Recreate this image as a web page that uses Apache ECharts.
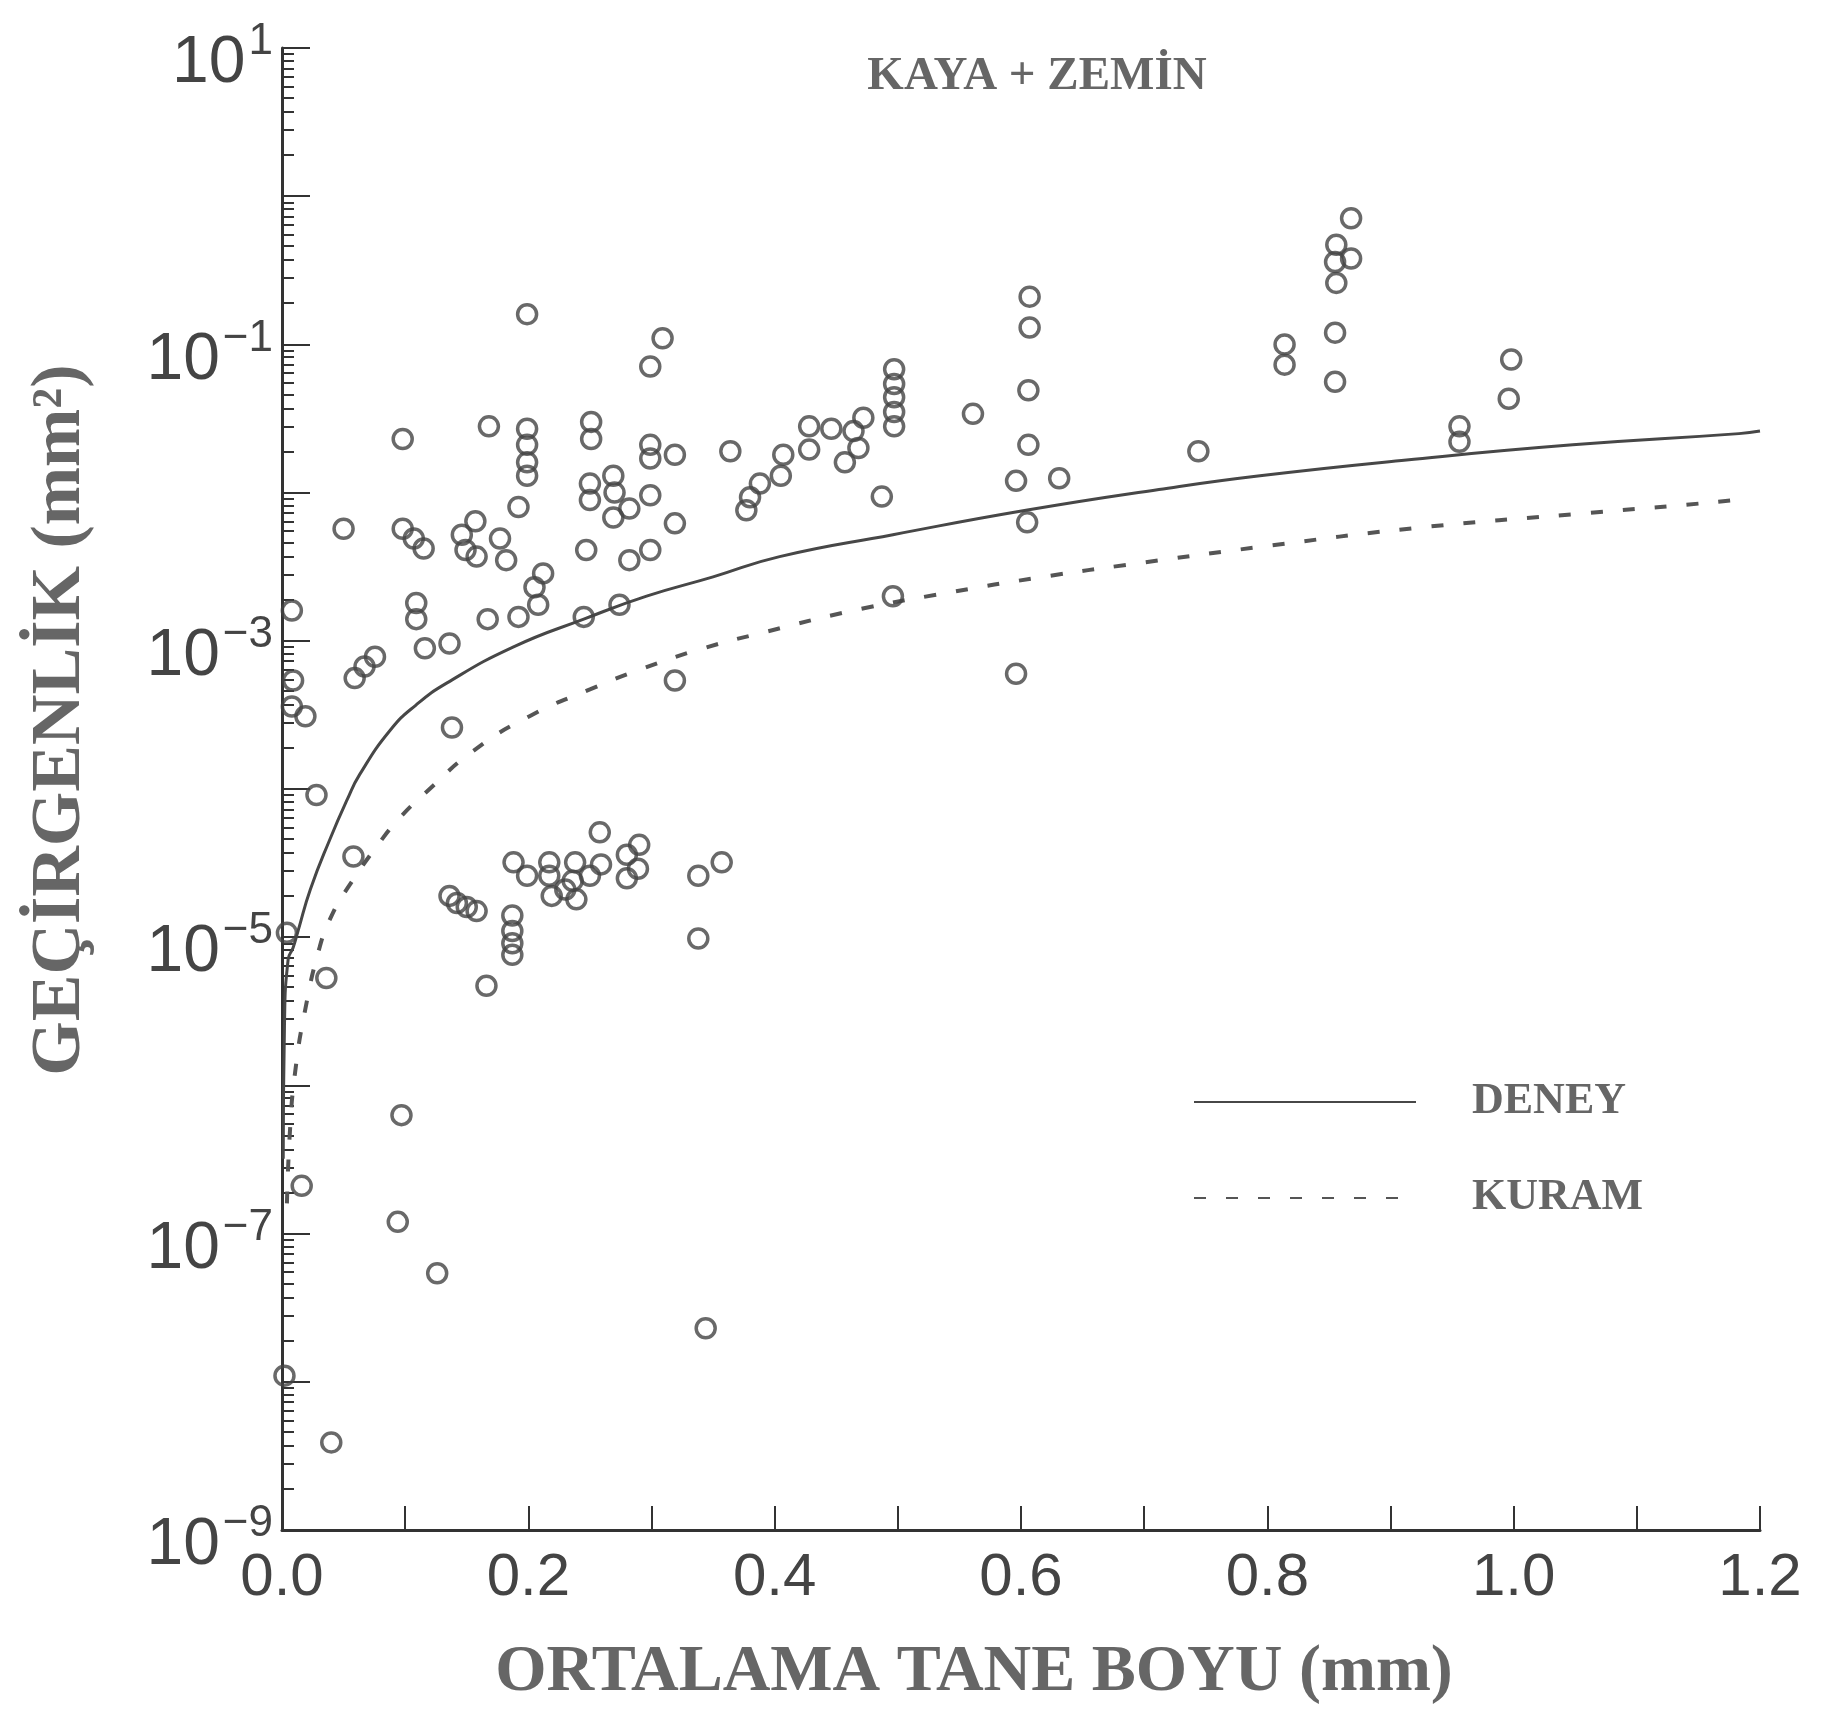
<!DOCTYPE html>
<html>
<head>
<meta charset="utf-8">
<script src="https://cdn.jsdelivr.net/npm/echarts@6/dist/echarts.min.js"></script>
<style>
  html, body { margin: 0; padding: 0; background: #fff; }
  #main { width: 1822px; height: 1726px; }
</style>
</head>
<body>
<div id="main"></div>
<script>
// ölçülen noktalar: [tane boyu (mm), geçirgenlik (mm2)]
const points = [
  [0.199, 1.6e-1], [0.309, 1.1e-1], [0.299, 7.1e-2], [0.098, 2.3e-2], [0.168, 2.8e-2],
  [0.199, 2.7e-2], [0.199, 2.1e-2], [0.199, 1.6e-2], [0.199, 1.3e-2], [0.251, 3.0e-2],
  [0.251, 2.3e-2], [0.299, 2.1e-2], [0.299, 1.7e-2], [0.319, 1.8e-2], [0.364, 1.9e-2],
  [0.192, 8.0e-3], [0.250, 1.15e-2], [0.250, 8.9e-3], [0.269, 1.3e-2], [0.270, 1.0e-2],
  [0.282, 7.8e-3], [0.269, 6.8e-3], [0.299, 9.6e-3], [0.319, 6.2e-3], [0.247, 4.1e-3],
  [0.282, 3.5e-3], [0.299, 4.1e-3], [0.380, 9.3e-3], [0.388, 1.15e-2], [0.377, 7.6e-3],
  [0.050, 5.7e-3], [0.098, 5.7e-3], [0.107, 4.9e-3], [0.115, 4.2e-3], [0.157, 6.4e-3],
  [0.146, 5.2e-3], [0.149, 4.1e-3], [0.158, 3.7e-3], [0.177, 4.9e-3], [0.182, 3.5e-3],
  [0.212, 2.85e-3], [0.205, 2.3e-3], [0.208, 1.75e-3], [0.192, 1.45e-3], [0.167, 1.4e-3],
  [0.109, 1.8e-3], [0.109, 1.4e-3], [0.116, 8.9e-4], [0.136, 9.6e-4], [0.245, 1.45e-3],
  [0.274, 1.75e-3], [0.059, 5.6e-4], [0.067, 6.7e-4], [0.0755, 7.8e-4], [0.008, 1.6e-3],
  [0.009, 5.4e-4], [0.019, 3.1e-4], [0.008, 3.6e-4], [0.138, 2.6e-4], [0.319, 5.4e-4],
  [0.028, 9.1e-5],
  [0.607, 1.3e-1], [0.607, 2.1e-1], [0.606, 4.9e-2], [0.606, 2.1e-2], [0.596, 1.2e-2],
  [0.631, 1.25e-2], [0.605, 6.3e-3], [0.596, 6.0e-4], [0.561, 3.4e-2], [0.744, 1.9e-2],
  [0.497, 6.8e-2], [0.497, 5.4e-2], [0.497, 4.4e-2], [0.497, 3.5e-2], [0.497, 2.8e-2],
  [0.487, 9.4e-3], [0.496, 2.0e-3], [0.472, 3.2e-2], [0.428, 2.8e-2], [0.446, 2.7e-2],
  [0.464, 2.6e-2], [0.468, 2.0e-2], [0.457, 1.6e-2], [0.428, 1.95e-2], [0.407, 1.8e-2],
  [0.405, 1.3e-2],
  [0.868, 7.1e-1], [0.856, 4.7e-1], [0.868, 3.8e-1], [0.855, 3.6e-1], [0.856, 2.6e-1],
  [0.855, 1.2e-1], [0.814, 1.0e-1], [0.814, 7.3e-2], [0.855, 5.6e-2], [0.998, 7.9e-2],
  [0.996, 4.3e-2], [0.956, 2.8e-2], [0.956, 2.2e-2],
  [0.058, 3.5e-5], [0.004, 1.07e-5], [0.036, 5.3e-6], [0.258, 5.1e-5], [0.188, 3.2e-5],
  [0.199, 2.6e-5], [0.217, 3.2e-5], [0.217, 2.6e-5], [0.219, 1.9e-5], [0.238, 3.2e-5],
  [0.236, 2.4e-5], [0.239, 1.8e-5], [0.250, 2.6e-5], [0.259, 3.1e-5], [0.280, 3.6e-5],
  [0.290, 4.2e-5], [0.289, 2.9e-5], [0.280, 2.5e-5], [0.230, 2.1e-5], [0.136, 1.9e-5],
  [0.142, 1.7e-5], [0.150, 1.6e-5], [0.158, 1.5e-5], [0.187, 1.4e-5], [0.187, 1.1e-5],
  [0.187, 9.1e-6], [0.187, 7.6e-6], [0.166, 4.7e-6], [0.338, 2.6e-5], [0.357, 3.2e-5],
  [0.338, 9.8e-6], [0.097, 6.3e-7], [0.016, 2.1e-7], [0.094, 1.2e-7], [0.126, 5.4e-8],
  [0.344, 2.3e-8], [0.040, 3.9e-9], [0.002, 1.1e-8]
]

// DENEY eğrisi
const deneyX = [0.001, 0.002, 0.005, 0.009, 0.013, 0.023, 0.039, 0.053, 0.063, 0.088, 0.109, 0.134,
  0.188, 0.245, 0.296, 0.350, 0.404, 0.496, 0.604, 0.712, 0.794, 0.913, 1.048, 1.183, 1.2]
const deneyY = [3.2e-7, 2.5e-6, 7.1e-6, 8.5e-6, 1.1e-5, 2.1e-5, 4.6e-5, 8.5e-5, 1.25e-4, 2.5e-4, 3.7e-4, 5.2e-4,
  9.1e-4, 1.4e-3, 2.0e-3, 2.7e-3, 3.7e-3, 5.2e-3, 7.6e-3, 1.05e-2, 1.3e-2, 1.66e-2, 2.1e-2, 2.5e-2, 2.6e-2]

// KURAM eğrisi
const kuramX = [0.004, 0.0065, 0.0105, 0.0187, 0.0308, 0.0403, 0.0525, 0.0822, 0.0971, 0.117, 0.155,
  0.201, 0.250, 0.293, 0.342, 0.393, 0.464, 0.539, 0.618, 0.691, 0.794, 0.923, 1.053, 1.180, 1.19]
const kuramY = [1.6e-7, 5.0e-7, 1.2e-6, 3.2e-6, 8.7e-6, 1.4e-5, 2.1e-5, 4.7e-5, 6.6e-5, 9.5e-5, 1.8e-4,
  3.1e-4, 4.7e-4, 6.5e-4, 8.9e-4, 1.15e-3, 1.6e-3, 2.1e-3, 2.7e-3, 3.3e-3, 4.3e-3, 5.8e-3, 7.2e-3, 8.9e-3, 9.3e-3]

const xTicks = [0, 0.2, 0.4, 0.6, 0.8, 1.0, 1.2]

const myChart = echarts.init(document.getElementById('main'))
const serif = 'Liberation Serif'
const sans = 'Liberation Sans'

let option = {
  backgroundColor: '#ffffff',
  animation: false,
  title: {
    text: 'KAYA + ZEMİN',
    left: 1032,
    top: 48,
    textAlign: 'center',
    textStyle: { fontFamily: serif, fontWeight: 'bold', fontSize: 47, color: '#666666' }
  },
  legend: {
    data: ['DENEY', 'KURAM'],
    orient: 'vertical',
    left: 1188,
    top: 1072,
    itemWidth: 222,
    itemHeight: 14,
    itemGap: 46,
    itemStyle: { opacity: 0 },
    textStyle: {
      fontFamily: serif, fontWeight: 'bold', fontSize: 44, color: '#666666',
      lineHeight: 50, padding: [0, 0, 0, 51]
    }
  },
  grid: {
    left: 282,
    right: 62,
    top: 48,
    bottom: 196,
    containLabel: false,
    outerBoundsMode: 'none'
  },
  xAxis: {
    type: 'value',
    min: 0,
    max: 1.2,
    interval: 0.1,
    name: 'ORTALAMA TANE BOYU (mm)',
    nameLocation: 'middle',
    nameGap: 110,
    nameMoveOverlap: false,
    nameTextStyle: {
      fontFamily: serif, fontWeight: 'bold', fontSize: 66, color: '#666666',
      padding: [0, 94, 0, 0]
    },
    axisLine: { show: true, lineStyle: { color: '#333', width: 3 } },
    axisTick: { show: true, inside: true, length: 24, lineStyle: { color: '#333', width: 2 } },
    axisLabel: {
      margin: 18,
      fontFamily: sans,
      fontSize: 60,
      color: '#444',
      // sadece 0.2'nin katlarına etiket
      formatter: function (v) {
        const hit = xTicks.find(t => Math.abs(t - v) < 1e-6)
        return hit === undefined ? '' : hit.toFixed(1)
      }
    },
    splitLine: { show: false }
  },
  yAxis: {
    type: 'log',
    logBase: 10,
    min: 1e-9,
    max: 10,
    splitNumber: 10,
    interval: 1,
    name: 'GEÇİRGENLİK (mm²)',
    nameLocation: 'middle',
    nameRotate: 90,
    nameGap: 186,
    nameMoveOverlap: false,
    nameTextStyle: {
      fontFamily: serif, fontWeight: 'bold', fontSize: 70, color: '#666666',
      padding: [0, 0, 0, 138]
    },
    axisLine: { show: true, lineStyle: { color: '#333', width: 3 } },
    axisTick: { show: true, inside: true, length: 28, lineStyle: { color: '#333', width: 2 } },
    minorTick: { show: true, splitNumber: 10, length: 12, lineStyle: { color: '#333', width: 2 } },
    axisLabel: {
      margin: 9,
      formatter: function (v) {
        const e = Math.round(Math.log10(v))
        if (e % 2 === 0) return ''
        return '{b|10}{e|' + (e < 0 ? '\u2212' + (-e) : e) + '}'
      },
      rich: {
        b: { fontFamily: sans, fontSize: 66, lineHeight: 66, color: '#444', padding: [32, 0, 0, 0] },
        e: { fontFamily: sans, fontSize: 44, lineHeight: 44, color: '#444', padding: [0, 0, 12, 3] }
      }
    },
    splitLine: { show: false },
    minorSplitLine: { show: false }
  },
  series: [
    {
      name: 'noktalar',
      type: 'scatter',
      data: points,
      symbol: 'circle',
      symbolSize: 19,
      itemStyle: { color: 'rgba(0,0,0,0)', borderColor: '#444444', borderWidth: 3.5 },
      silent: true,
      z: 3
    },
    {
      name: 'DENEY',
      type: 'line',
      data: deneyX.map((x, i) => [x, deneyY[i]]),
      symbol: 'none',
      smooth: 0.5,
      lineStyle: { color: '#474747', width: 3, type: 'solid' },
      itemStyle: { color: '#474747' },
      silent: true,
      z: 2
    },
    {
      name: 'KURAM',
      type: 'line',
      data: kuramX.map((x, i) => [x, kuramY[i]]),
      symbol: 'none',
      smooth: 0.5,
      lineStyle: { color: '#555555', width: 4, type: [12, 20] },
      itemStyle: { color: '#555555' },
      silent: true,
      z: 2
    }
  ]
}

myChart.clear()
myChart.setOption(option)
window.addEventListener('resize', function () {
  myChart.resize()
})
</script>
</body>
</html>
